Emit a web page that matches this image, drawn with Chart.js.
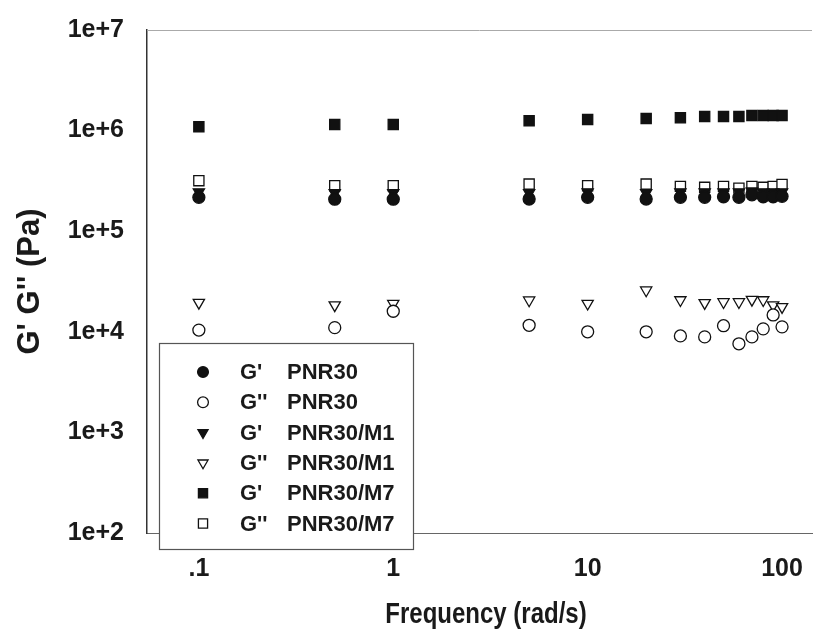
<!DOCTYPE html>
<html>
<head>
<meta charset="utf-8">
<script src="https://cdn.jsdelivr.net/npm/chart.js@4/dist/chart.umd.min.js"></script>
<style>
  html, body { margin: 0; padding: 0; background: #fff; }
  canvas { display: block; }
</style>
</head>
<body>
<canvas id="chart" width="831" height="635"></canvas>
<script>
// frequency (rad/s)
let freq = [0.1, 0.5, 1, 5, 10, 20, 30, 40, 50, 60, 70, 80, 90, 100];

// moduli (Pa)
let gpPnr30   = [2.17e5, 2.08e5, 2.08e5, 2.09e5, 2.17e5, 2.09e5, 2.17e5, 2.17e5, 2.2e5, 2.17e5, 2.3e5, 2.2e5, 2.2e5, 2.22e5];
let gppPnr30  = [1.04e4, 1.10e4, 1.60e4, 1.16e4, 1.0e4, 1.0e4, 9.1e3, 8.9e3, 1.15e4, 7.6e3, 8.9e3, 1.07e4, 1.47e4, 1.12e4];
let gpM1      = [2.45e5, 2.4e5, 2.4e5, 2.4e5, 2.45e5, 2.4e5, 2.45e5, 2.45e5, 2.45e5, 2.45e5, 2.5e5, 2.45e5, 2.45e5, 2.45e5];
let gppM1     = [1.95e4, 1.84e4, 1.91e4, 2.06e4, 1.91e4, 2.59e4, 2.07e4, 1.94e4, 1.98e4, 1.98e4, 2.09e4, 2.07e4, 1.84e4, 1.77e4];
let gpM7      = [1.09e6, 1.15e6, 1.15e6, 1.25e6, 1.29e6, 1.32e6, 1.34e6, 1.38e6, 1.38e6, 1.38e6, 1.41e6, 1.41e6, 1.41e6, 1.41e6];
let gppM7     = [3.18e5, 2.83e5, 2.83e5, 2.94e5, 2.83e5, 2.94e5, 2.79e5, 2.73e5, 2.79e5, 2.68e5, 2.79e5, 2.73e5, 2.79e5, 2.91e5];

let xTicks = [0.1, 1, 10, 100];
let xTickLabels = [".1", "1", "10", "100"];
let yTicks = [1e2, 1e3, 1e4, 1e5, 1e6, 1e7];
let yTickLabels = ["1e+2", "1e+3", "1e+4", "1e+5", "1e+6", "1e+7"];
let xTitle = "Frequency (rad/s)";
let yTitle = "G' G'' (Pa)";

let legendNames = [["G'", "PNR30"], ["G''", "PNR30"], ["G'", "PNR30/M1"], ["G''", "PNR30/M1"], ["G'", "PNR30/M7"], ["G''", "PNR30/M7"]];

function pts(ys) {
    return freq.map(function (f, i) { return { x: f, y: ys[i] }; });
}

function series(label, ys, style, filled, radius, rotation) {
    return {
        label: label,
        data: pts(ys),
        showLine: false,
        pointStyle: style,
        pointRotation: rotation || 0,
        pointRadius: radius,
        pointHoverRadius: radius,
        pointBorderWidth: 1.3,
        pointBorderColor: "#111",
        pointBackgroundColor: filled ? "#111" : "#fff",
        legendRadius: radius * 0.9
    };
}

let datasets = [
    series("G' PNR30", gpPnr30, "circle", true, 6),
    series("G'' PNR30", gppPnr30, "circle", false, 6),
    series("G' PNR30/M1", gpM1, "triangle", true, 6.5, 180),
    series("G'' PNR30/M1", gppM1, "triangle", false, 6.5, 180),
    series("G' PNR30/M7", gpM7, "rect", true, 7.2),
    series("G'' PNR30/M7", gppM7, "rect", false, 7.2)
];

// frame top line, condensed x title and the legend box inside the plot
let framePlugin = {
    id: "frame",
    afterDraw: function (chart) {
        let ctx = chart.ctx;
        let a = chart.chartArea;
        ctx.save();
        ctx.strokeStyle = "#aaa";
        ctx.lineWidth = 1;
        ctx.beginPath();
        ctx.moveTo(a.left, a.top + 0.5);
        ctx.lineTo(a.right, a.top + 0.5);
        ctx.stroke();

        // x title, narrow like the original
        ctx.save();
        ctx.translate(486, 615);
        ctx.scale(0.8, 1);
        ctx.font = "bold 30px 'Liberation Sans', Arial, sans-serif";
        ctx.fillStyle = "#1a1a1a";
        ctx.textAlign = "center";
        ctx.textBaseline = "middle";
        ctx.fillText(xTitle, 0, 0);
        ctx.restore();

        // legend
        let bx = 159, by = 343, bw = 254, bh = 206;
        ctx.fillStyle = "#fff";
        ctx.fillRect(bx, by, bw, bh);
        ctx.strokeStyle = "#555";
        ctx.lineWidth = 1.2;
        ctx.strokeRect(bx + 0.5, by + 0.5, bw, bh);

        ctx.font = "bold 22px 'Liberation Sans', Arial, sans-serif";
        ctx.textBaseline = "middle";
        ctx.textAlign = "left";
        for (let i = 0; i < legendNames.length; i++) {
            let ds = chart.data.datasets[i];
            let y = 372 + i * 30.3;
            ctx.fillStyle = ds.pointBackgroundColor;
            ctx.strokeStyle = ds.pointBorderColor;
            ctx.lineWidth = 1.3;
            Chart.helpers.drawPoint(ctx, {
                pointStyle: ds.pointStyle,
                rotation: ds.pointRotation,
                radius: ds.legendRadius,
                borderWidth: 1.3
            }, 203, y);
            ctx.fillStyle = "#1a1a1a";
            ctx.fillText(legendNames[i][0], 240, y + 1);
            ctx.fillText(legendNames[i][1], 287, y + 1);
        }
        ctx.restore();
    }
};

let chart = new Chart(document.getElementById("chart").getContext("2d"), {
    type: "scatter",
    data: { datasets: datasets },
    options: {
        responsive: false,
        animation: false,
        devicePixelRatio: 1,
        layout: { padding: { top: 16, right: 19, left: 0, bottom: 0 } },
        plugins: {
            legend: { display: false },
            tooltip: { enabled: false }
        },
        scales: {
            x: {
                type: "logarithmic",
                min: 0.0541,
                max: 142.6,
                grid: { display: false },
                border: { display: true, color: "#666", width: 1 },
                afterBuildTicks: function (scale) {
                    scale.ticks = xTicks.map(function (v) { return { value: v }; });
                },
                afterFit: function (scale) { scale.height = 102; },
                ticks: {
                    autoSkip: false,
                    maxRotation: 0,
                    padding: 13,
                    color: "#1a1a1a",
                    font: { family: "'Liberation Sans', Arial, sans-serif", size: 25, weight: "bold" },
                    callback: function (v) {
                        let i = xTicks.indexOf(v);
                        return i >= 0 ? xTickLabels[i] : "";
                    }
                }
            },
            y: {
                type: "logarithmic",
                min: 1e2,
                max: 1e7,
                grid: { display: false },
                border: { display: true, color: "#333", width: 1.5 },
                afterBuildTicks: function (scale) {
                    scale.ticks = yTicks.map(function (v) { return { value: v }; });
                },
                afterFit: function (scale) { scale.width = 147; },
                ticks: {
                    autoSkip: false,
                    padding: 15,
                    color: "#1a1a1a",
                    font: { family: "'Liberation Sans', Arial, sans-serif", size: 25, weight: "bold" },
                    callback: function (v) {
                        let i = yTicks.indexOf(v);
                        return i >= 0 ? yTickLabels[i] : "";
                    }
                },
                title: {
                    display: true,
                    text: yTitle,
                    color: "#1a1a1a",
                    padding: { top: 12, bottom: 0 },
                    font: { family: "'Liberation Sans', Arial, sans-serif", size: 31, weight: "bold" }
                }
            }
        }
    },
    plugins: [framePlugin]
});
</script>
</body>
</html>
